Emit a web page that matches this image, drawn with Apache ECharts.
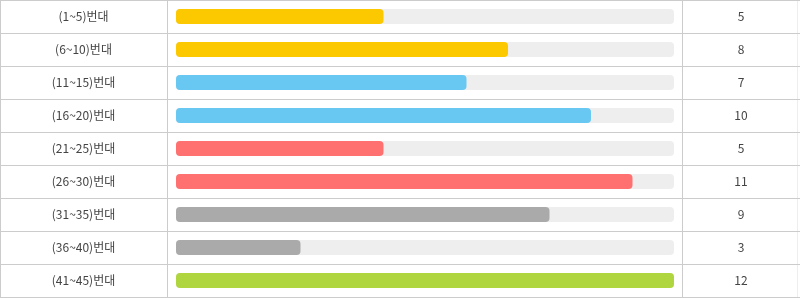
<!DOCTYPE html>
<html>
<head>
<meta charset="utf-8">
<script src="https://cdn.jsdelivr.net/npm/echarts@6/dist/echarts.min.js"></script>
<style>
html,body{margin:0;padding:0;background:#fff;}
#main{width:800px;height:298px;}
</style>
</head>
<body>
<div id="main"></div>
<script>
var categories = ['(1~5)번대','(6~10)번대','(11~15)번대','(16~20)번대','(21~25)번대','(26~30)번대','(31~35)번대','(36~40)번대','(41~45)번대'];
var counts = [5, 8, 7, 10, 5, 11, 9, 3, 12];
var maxCount = 12;
var barColors = ['#fcc800','#fcc800','#69c8f2','#69c8f2','#ff7070','#ff7070','#aaaaaa','#aaaaaa','#b0d63f'];

var chart = echarts.init(document.getElementById('main'), null, {renderer:'canvas'});
var font = '"Malgun Gothic","Noto Sans CJK KR",sans-serif';
var option = {
  animation: false,
  backgroundColor: '#fff',
  grid: [
    {left: 176, right: 126, top: 0, height: 297, containLabel: false},
    {left: 0, right: 0, top: 0, height: 297, containLabel: false}
  ],
  xAxis: [
    {gridIndex: 0, type: 'value', min: 0, max: maxCount, show: false},
    {gridIndex: 1, type: 'value', min: 0, max: 1, show: false}
  ],
  yAxis: [
    {
      gridIndex: 0, type: 'category', inverse: true, data: categories,
      axisLine: {show: false}, axisTick: {show: false}, splitLine: {show: false},
      axisLabel: {align: 'center', margin: 92.5, color: '#444', fontSize: 12, fontFamily: font, padding: [3, 0, 0, 0]}
    },
    {
      gridIndex: 0, type: 'category', inverse: true, position: 'right',
      data: counts.map(String),
      axisLine: {show: false}, axisTick: {show: false}, splitLine: {show: false},
      axisLabel: {align: 'center', margin: 67, color: '#444', fontSize: 12, fontFamily: font, padding: [3, 0, 0, 0]}
    },
    {
      gridIndex: 1, type: 'category', inverse: true, data: categories,
      axisLine: {show: false}, axisTick: {show: false}, axisLabel: {show: false},
      splitLine: {show: true, lineStyle: {color: '#cccccc', width: 1}}
    }
  ],
  graphic: [
    {type: 'line', shape: {x1: 0.5, y1: 0, x2: 0.5, y2: 297}, style: {stroke: '#cccccc', lineWidth: 1}},
    {type: 'line', shape: {x1: 167.5, y1: 0, x2: 167.5, y2: 297}, style: {stroke: '#cccccc', lineWidth: 1}},
    {type: 'line', shape: {x1: 682.5, y1: 0, x2: 682.5, y2: 297}, style: {stroke: '#cccccc', lineWidth: 1}},
    {type: 'line', shape: {x1: 797.5, y1: 0, x2: 797.5, y2: 297}, style: {stroke: '#eeeeee', lineWidth: 1}}
  ],
  series: [
    {
      type: 'bar', xAxisIndex: 0, yAxisIndex: 0,
      data: counts.map(function(v, i){ return {value: v, itemStyle: {color: barColors[i]}}; }),
      barWidth: 15,
      showBackground: true,
      backgroundStyle: {color: '#eeeeee', borderRadius: 4},
      itemStyle: {borderRadius: 4}
    }
  ]
};
chart.setOption(option);
</script>
</body>
</html>
